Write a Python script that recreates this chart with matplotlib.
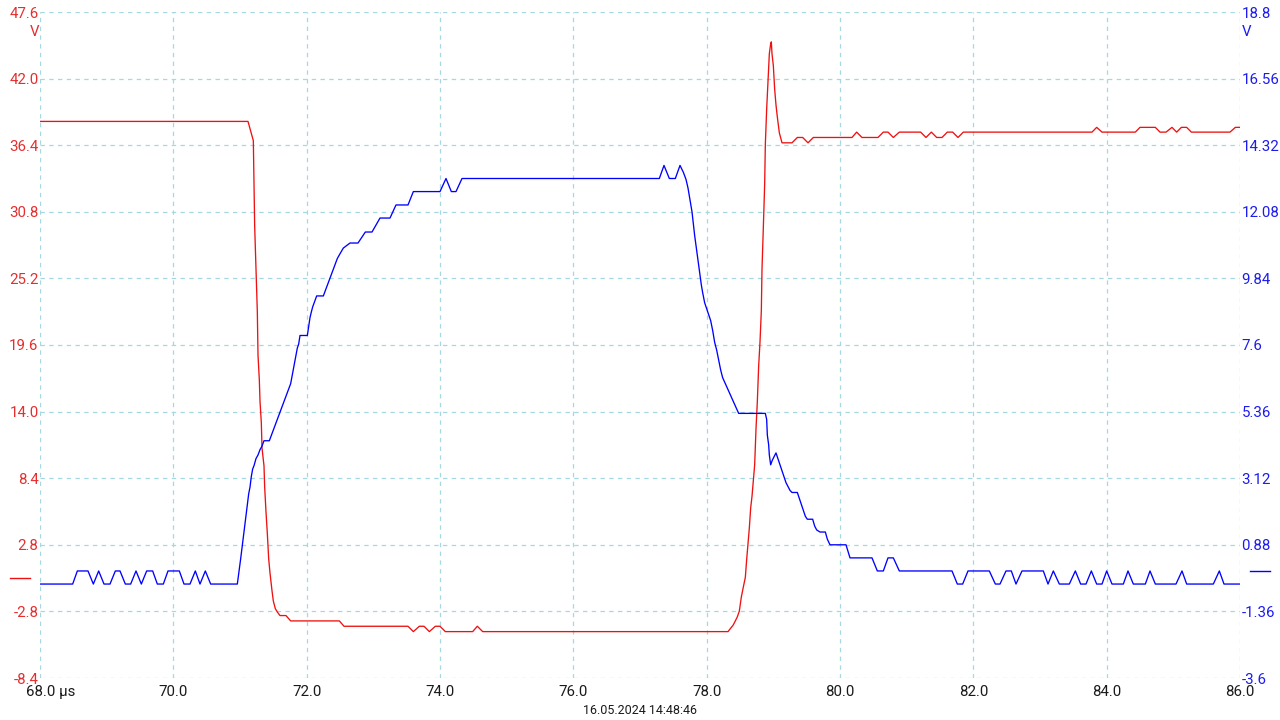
import matplotlib
matplotlib.use("Agg")
import matplotlib.pyplot as plt
import matplotlib.transforms as mtransforms
import numpy as np

plt.rcParams['font.family'] = ['Roboto', 'DejaVu Sans']

# channel A (red, left axis), time in µs, volts
red_t = [68.0, 71.12, 71.20, 71.21, 71.22, 71.24, 71.26, 71.27, 71.29, 71.30, 71.32,
         71.33, 71.36, 71.37, 71.39, 71.41, 71.43, 71.45, 71.48, 71.50, 71.53, 71.56,
         71.60, 71.69, 71.76, 72.49, 72.56, 73.52, 73.60, 73.69, 73.76, 73.84, 73.93,
         74.00, 74.08, 74.49, 74.56, 74.64, 78.32, 78.40, 78.46, 78.49, 78.52, 78.55,
         78.58, 78.60, 78.62, 78.64, 78.66, 78.68, 78.70, 78.72, 78.74, 78.76, 78.78,
         78.80, 78.82, 78.83, 78.85, 78.87, 78.88, 78.90, 78.92, 78.94, 78.96, 78.97,
         78.98, 79.00, 79.02, 79.04, 79.06, 79.09, 79.13, 79.28, 79.36, 79.44, 79.52,
         79.60, 80.18, 80.25, 80.33, 80.57, 80.65, 80.72, 80.80, 80.89, 81.21, 81.29,
         81.37, 81.45, 81.53, 81.61, 81.69, 81.77, 81.85, 83.78, 83.85, 83.93, 84.43,
         84.50, 84.73, 84.80, 84.89, 84.98, 85.05, 85.12, 85.20, 85.27, 85.85, 85.93, 86.0]
red_v = [38.4, 38.4, 36.78, 33.17, 29.61, 25.99, 22.37, 18.76, 16.66, 14.89, 13.04,
         10.94, 9.43, 7.66, 5.56, 3.74, 1.64, 0.43, -1.06, -1.93, -2.57, -2.85,
         -3.15, -3.15, -3.6, -3.6, -4.05, -4.05, -4.5, -4.05, -4.05, -4.5, -4.05,
         -4.05, -4.5, -4.5, -4.05, -4.5, -4.5, -3.93, -3.26, -2.77, -1.59, -0.75,
         0.06, 1.56, 2.89, 4.21, 5.90, 6.87, 8.20, 9.53, 12.54, 14.85, 17.84,
         19.85, 22.49, 25.99, 29.47, 33.14, 36.45, 39.44, 41.76, 44.09, 44.93, 45.09,
         44.09, 43.09, 41.10, 39.78, 38.77, 37.44, 36.6, 36.6, 37.05, 37.05, 36.6,
         37.05, 37.05, 37.5, 37.05, 37.05, 37.5, 37.5, 37.05, 37.5, 37.5, 37.05,
         37.5, 37.05, 37.05, 37.5, 37.5, 37.05, 37.5, 37.5, 37.9, 37.5, 37.5,
         37.9, 37.9, 37.5, 37.5, 37.9, 37.5, 37.9, 37.9, 37.5, 37.5, 37.9, 37.9]

# channel B (blue, right axis)
blue_t = [68.0, 68.49, 68.56, 68.72, 68.80, 68.88, 68.96, 69.05, 69.13, 69.20, 69.28,
          69.36, 69.44, 69.52, 69.60, 69.69, 69.76, 69.85, 69.92, 70.09, 70.16, 70.25,
          70.33, 70.40, 70.48, 70.56, 70.96, 70.99, 71.01, 71.03, 71.05, 71.07, 71.09,
          71.11, 71.13, 71.15, 71.17, 71.19, 71.21, 71.24, 71.27, 71.30, 71.33, 71.36,
          71.44, 71.46, 71.49, 71.52, 71.55, 71.58, 71.61, 71.64, 71.67, 71.70, 71.73,
          71.76, 71.78, 71.80, 71.82, 71.84, 71.86, 71.88, 71.90, 72.01, 72.03, 72.05,
          72.07, 72.09, 72.12, 72.15, 72.25, 72.28, 72.31, 72.34, 72.37, 72.40, 72.43,
          72.46, 72.49, 72.55, 72.65, 72.77, 72.88, 72.98, 73.10, 73.25, 73.34, 73.52,
          73.60, 74.00, 74.09, 74.17, 74.24, 74.33, 77.29, 77.36, 77.44, 77.53, 77.60,
          77.65, 77.69, 77.72, 77.75, 77.78, 77.80, 77.82, 77.84, 77.86, 77.88, 77.90,
          77.92, 77.94, 77.97, 78.00, 78.03, 78.06, 78.09, 78.12, 78.15, 78.18, 78.21,
          78.24, 78.28, 78.32, 78.36, 78.40, 78.44, 78.48, 78.88, 78.90, 78.91, 78.93,
          78.94, 78.96, 78.98, 79.01, 79.04, 79.07, 79.10, 79.13, 79.16, 79.19, 79.22,
          79.25, 79.28, 79.36, 79.39, 79.42, 79.45, 79.48, 79.51, 79.59, 79.62, 79.65,
          79.70, 79.78, 79.81, 79.85, 80.09, 80.15, 80.48, 80.56, 80.65, 80.72, 80.80,
          80.89, 81.68, 81.76, 81.84, 81.92, 82.24, 82.33, 82.40, 82.49, 82.57, 82.64,
          82.73, 83.05, 83.12, 83.20, 83.29, 83.44, 83.53, 83.61, 83.69, 83.77, 83.85,
          83.93, 84.00, 84.08, 84.25, 84.32, 84.40, 84.58, 84.65, 84.73, 85.04, 85.13,
          85.20, 85.60, 85.69, 85.76, 86.0]
blue_v = [-0.44, -0.44, 0.0, 0.0, -0.44, 0.0, -0.44, -0.44, 0.0, 0.0, -0.44,
          -0.44, 0.0, -0.44, 0.0, 0.0, -0.44, -0.44, 0.0, 0.0, -0.44, -0.44,
          0.0, -0.44, 0.0, -0.44, -0.44, 0.06, 0.41, 0.77, 1.14, 1.51, 1.86,
          2.22, 2.59, 2.82, 3.18, 3.43, 3.54, 3.78, 3.90, 4.08, 4.20, 4.38,
          4.38, 4.50, 4.68, 4.86, 5.04, 5.22, 5.40, 5.58, 5.76, 5.94, 6.12,
          6.30, 6.54, 6.79, 7.03, 7.26, 7.50, 7.63, 7.92, 7.92, 8.22, 8.52,
          8.71, 8.88, 9.07, 9.25, 9.25, 9.43, 9.60, 9.79, 9.97, 10.15, 10.32,
          10.51, 10.63, 10.86, 11.03, 11.03, 11.40, 11.40, 11.87, 11.87, 12.31, 12.31,
          12.76, 12.76, 13.2, 12.76, 12.76, 13.2, 13.2, 13.64, 13.2, 13.2, 13.64,
          13.41, 13.17, 12.88, 12.48, 12.08, 11.68, 11.28, 10.95, 10.62, 10.28, 9.95,
          9.62, 9.36, 9.02, 8.82, 8.62, 8.42, 8.09, 7.69, 7.43, 7.10, 6.76,
          6.50, 6.30, 6.10, 5.90, 5.70, 5.50, 5.30, 5.30, 5.10, 4.57, 4.24,
          3.90, 3.57, 3.70, 3.84, 3.97, 3.77, 3.57, 3.37, 3.17, 2.97, 2.84,
          2.71, 2.64, 2.64, 2.44, 2.24, 2.04, 1.84, 1.74, 1.74, 1.51, 1.38,
          1.31, 1.31, 1.07, 0.88, 0.88, 0.44, 0.44, 0.0, 0.0, 0.44, 0.44,
          0.0, 0.0, -0.44, -0.44, 0.0, 0.0, -0.44, -0.44, 0.0, 0.0, -0.44,
          0.0, 0.0, -0.44, 0.0, -0.44, -0.44, 0.0, -0.44, -0.44, 0.0, -0.44,
          -0.44, 0.0, -0.44, -0.44, 0.0, -0.44, -0.44, 0.0, -0.44, -0.44, 0.0,
          -0.44, -0.44, 0.0, -0.44, -0.44]

x_ticks = [68.0, 70.0, 72.0, 74.0, 76.0, 78.0, 80.0, 82.0, 84.0, 86.0]
left_ticks = [47.6, 42.0, 36.4, 30.8, 25.2, 19.6, 14.0, 8.4, 2.8, -2.8, -8.4]
right_ticks = [18.8, 16.56, 14.32, 12.08, 9.84, 7.6, 5.36, 3.12, 0.88, -1.36, -3.6]
timestamp = "16.05.2024 14:48:46"

RED_LINE = '#ee1111'
RED_TXT = '#e62e2e'
BLUE_LINE = '#0000ff'
BLUE_TXT = '#1c1cf0'
GRID = '#a6d8e2'
FS = 10.8

fig = plt.figure(figsize=(12.8, 7.2), dpi=100)
ax = fig.add_axes([40 / 1280, 1 - 678 / 720, 1200 / 1280, 666 / 720])
ax2 = ax.twinx()

ax.set_xlim(68.0, 86.0)
ax.set_ylim(-8.4, 47.6)
ax2.set_ylim(-3.6, 18.8)

for a in (ax, ax2):
    for s in a.spines.values():
        s.set_visible(False)

ax.set_xticks(x_ticks)
xlabels = ['%.1f' % v for v in x_ticks]
xlabels[0] = '68.0 µs'
ax.set_xticklabels(xlabels)
ax.set_yticks(left_ticks)
ax.set_yticklabels(['%.1f' % v for v in left_ticks])
ax2.set_yticks(right_ticks)
ax2.set_yticklabels(['%g' % v for v in right_ticks])

ax.tick_params(axis='x', length=0, pad=5, labelsize=FS, colors='#1a1a1a')
ax.tick_params(axis='y', length=0, pad=1, labelsize=FS, labelcolor=RED_TXT)
ax2.tick_params(axis='y', length=0, pad=1, labelsize=FS, labelcolor=BLUE_TXT)

# shift first x label so the number stays centred on its tick
first = ax.get_xticklabels()[0]
first.set_horizontalalignment('left')
first.set_transform(first.get_transform() + mtransforms.ScaledTranslation(-14 / 100, 0, fig.dpi_scale_trans))

ax.grid(True, color=GRID, linestyle=(0, (3.5, 3.5)), linewidth=0.9)
ax.set_axisbelow(True)

ax.plot(red_t, red_v, color=RED_LINE, lw=0.95)
ax2.plot(blue_t, blue_v, color=BLUE_LINE, lw=0.95)

# zero-level markers
trl = mtransforms.blended_transform_factory(ax.transAxes, ax.transData)
ax.plot([-0.025, -0.0085], [0, 0], color=RED_LINE, lw=1.0, transform=trl, clip_on=False)
trr = mtransforms.blended_transform_factory(ax2.transAxes, ax2.transData)
ax2.plot([1.0085, 1.025], [0, 0], color=BLUE_LINE, lw=1.0, transform=trr, clip_on=False)

# unit labels
fig.text(39 / 1280, 1 - 32 / 720, 'V', color=RED_TXT, fontsize=FS, ha='right', va='center')
fig.text(1242 / 1280, 1 - 32 / 720, 'V', color=BLUE_TXT, fontsize=FS, ha='left', va='center')

fig.text(0.5, 1 - 711 / 720, timestamp, ha='center', va='center', fontsize=9, color='#1a1a1a')

fig.savefig('out.png', dpi=100, facecolor='white')
